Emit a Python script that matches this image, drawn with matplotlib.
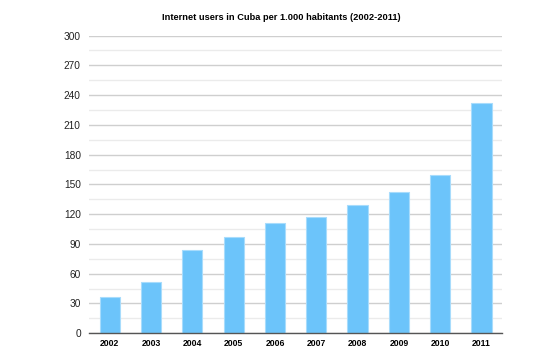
import matplotlib
matplotlib.use("Agg")
import matplotlib.pyplot as plt
import numpy as np

years = ["2002", "2003", "2004", "2005", "2006", "2007", "2008", "2009", "2010", "2011"]
users = [37, 52, 84, 97, 111, 117, 129, 142, 159, 232]
yticks = [0, 30, 60, 90, 120, 150, 180, 210, 240, 270, 300]

plt.rcParams['font.family'] = ['Liberation Sans', 'DejaVu Sans']

fig = plt.figure(figsize=(5.5, 3.63), dpi=100)
ax = fig.add_axes([0.162, 0.082, 0.751, 0.820])

x = np.arange(len(years))
ax.bar(x, users, width=0.49, color='#6cc4fa', edgecolor='#a8dcfc', linewidth=0.8, zorder=3)

ax.set_xlim(-0.5, len(years) - 0.5)
ax.set_ylim(0, 300)
ax.set_yticks(yticks)
ax.set_yticks(np.arange(15, 300, 30), minor=True)
ax.grid(axis='y', which='major', color='#cfcfcf', linewidth=1.0, zorder=0)
ax.grid(axis='y', which='minor', color='#ebebeb', linewidth=1.0, zorder=0)
ax.set_xticks(x)
ax.set_xticklabels(years, fontweight='bold', fontsize=6.2)
ax.tick_params(axis='y', which='both', length=0, labelsize=7.3, pad=6, labelcolor='#222222')
ax.tick_params(axis='x', length=0, pad=4)
for s in ['left', 'right', 'top']:
    ax.spines[s].set_visible(False)
ax.spines['bottom'].set_color('#555555')
ax.spines['bottom'].set_linewidth(1.0)
ax.spines['bottom'].set_zorder(4)

fig.text(281 / 550, 1 - 18 / 363, "Internet users in Cuba per 1.000 habitants (2002-2011)",
         ha='center', va='center', fontweight='bold', fontsize=6.7)

fig.savefig("out.png", dpi=100)
